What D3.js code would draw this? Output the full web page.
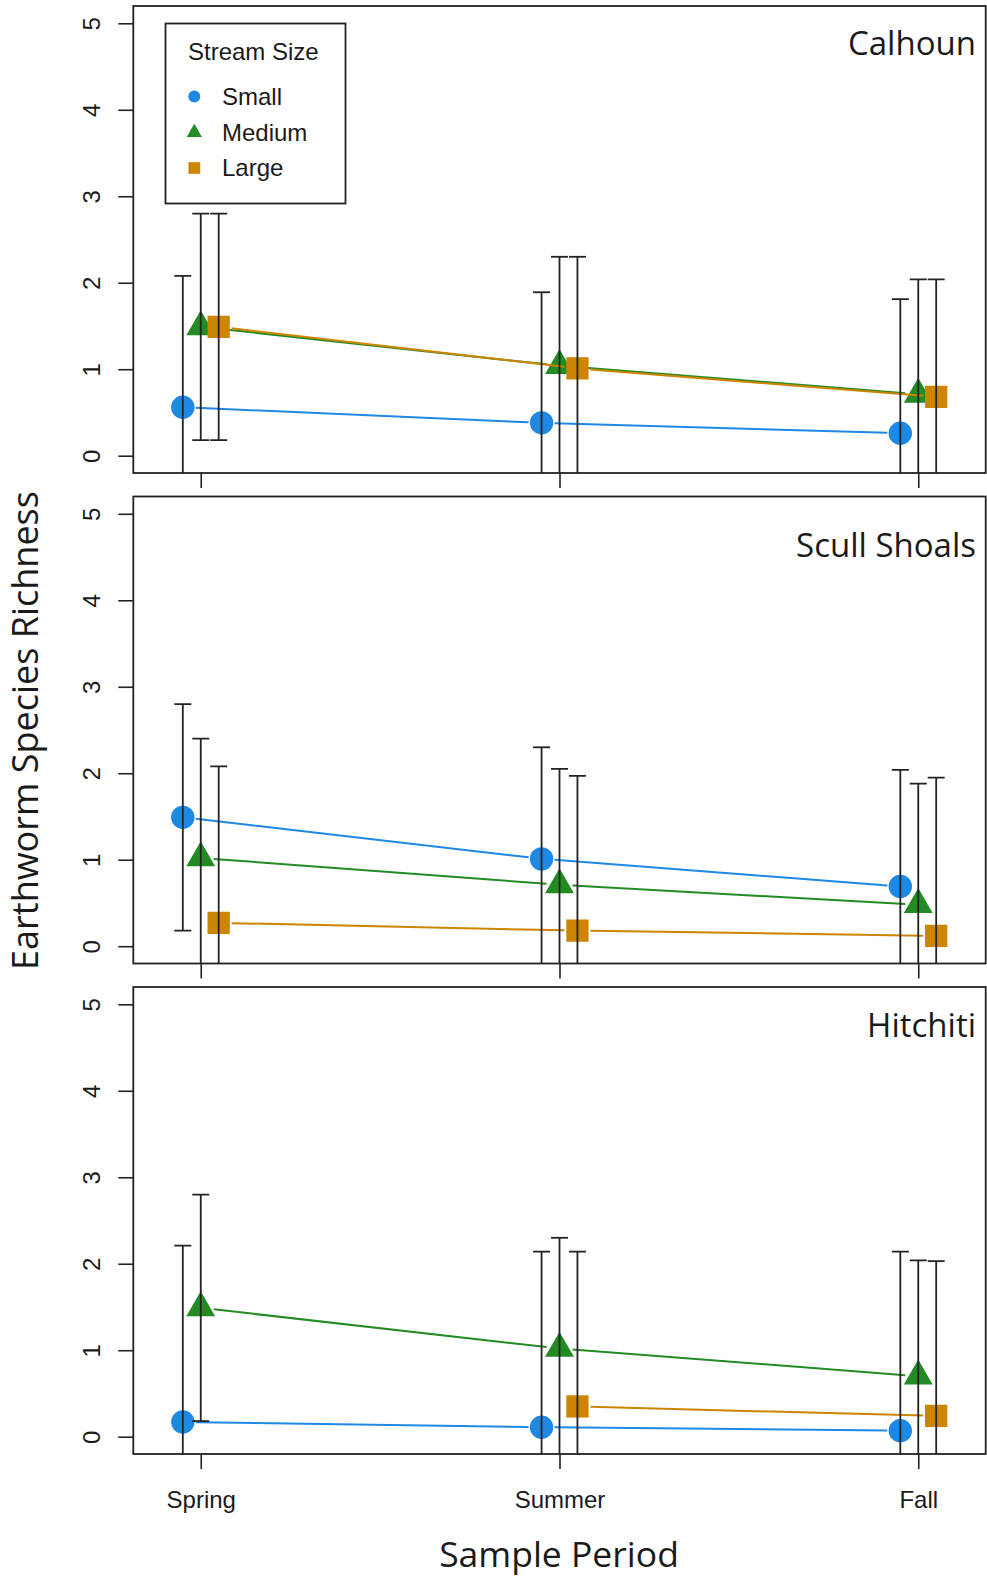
<!DOCTYPE html>
<html>
<head>
<meta charset="utf-8">
<script src="https://cdn.jsdelivr.net/npm/d3@7"></script>
<style>
  body { margin: 0; background: #fff; }
  text { font-family: "Liberation Sans", Arial, sans-serif; fill: #1a1a1a; }
  .title { font-family: "Open Sans", "Liberation Sans", sans-serif; }
</style>
</head>
<body>
<script>
    // data (mean and sd for each stream size, by period)
    var periods = ["Spring", "Summer", "Fall"];
    var sizes = ["Small", "Medium", "Large"];
    var sites = ["Calhoun", "Scull Shoals", "Hitchiti"];
    var yTicks = [0, 1, 2, 3, 4, 5];

    var calhounMean = [[0.56, 0.38, 0.26], [1.49, 1.04, 0.71], [1.49, 1.01, 0.68]];
    var calhounSd   = [[1.52, 1.51, 1.55], [1.31, 1.26, 1.33], [1.31, 1.29, 1.36]];

    var scullMean = [[1.49, 1.01, 0.69], [1.02, 0.71, 0.48], [0.27, 0.18, 0.12]];
    var scullSd   = [[1.31, 1.29, 1.35], [1.38, 1.34, 1.40], [1.81, 1.79, 1.83]];

    var hitchitiMean = [[0.17, 0.11, 0.07], [1.49, 1.02, 0.70], [null, 0.35, 0.24]];
    var hitchitiSd   = [[2.04, 2.03, 2.07], [1.31, 1.28, 1.34], [null, 1.79, 1.79]];

    var siteMeans = [calhounMean, scullMean, hitchitiMean];
    var siteSds = [calhounSd, scullSd, hitchitiSd];

    var W = 987, H = 1578;
    var left = 133.3, right = 985.7, panelH = 467;
    var panelTops = [6, 496.5, 987];
    var titleBase = [49, 60, 50];

    var colors = ["#1e88e5", "#228b22", "#cd8500"];
    var shapes = [d3.symbolCircle, d3.symbolTriangle, d3.symbolSquare];
    var markArea = [430, 360, 497];
    var legendArea = [113, 100, 137];
    var offsets = [-0.05, 0, 0.05];

    var svg = d3.select('body').append('svg')
            .attr('width', W)
            .attr('height', H);

    var x = d3.scaleLinear().domain([0.812, 3.188]).range([left, right]);

    sites.forEach(function (site, i) {
        var top = panelTops[i];
        var y = d3.scaleLinear().domain([-0.2, 5.2]).range([top + panelH, top]);
        var g = svg.append('g');

        g.append('clipPath').attr('id', 'clip' + i)
                .append('rect')
                .attr('x', left).attr('y', top)
                .attr('width', right - left).attr('height', panelH);

        // y axis, R style rotated labels
        var ya = g.append('g')
                .attr('transform', 'translate(' + left + ',0)')
                .call(d3.axisLeft(y).tickValues(yTicks).tickSize(15).tickSizeOuter(0)
                        .tickFormat(d3.format('d')));
        ya.select('.domain').remove();
        ya.selectAll('line').attr('stroke', '#222').attr('stroke-width', 1.6);
        ya.selectAll('text')
                .attr('x', 0).attr('dy', 0).attr('y', 0)
                .attr('text-anchor', 'middle')
                .attr('transform', 'translate(-33.3,0) rotate(-90)')
                .style('font-size', '24px')
                .attr('fill', '#1a1a1a');

        // x axis ticks, labels only on the last panel
        var xa = g.append('g')
                .attr('transform', 'translate(0,' + (top + panelH) + ')')
                .call(d3.axisBottom(x).tickValues([1, 2, 3]).tickSize(15).tickSizeOuter(0)
                        .tickPadding(22)
                        .tickFormat(function (d) { return i === 2 ? periods[d - 1] : ''; }));
        xa.select('.domain').remove();
        xa.selectAll('line').attr('stroke', '#222').attr('stroke-width', 1.6);
        xa.selectAll('text').style('font-size', '24px').attr('fill', '#1a1a1a');

        var inner = g.append('g').attr('clip-path', 'url(#clip' + i + ')');
        var means = siteMeans[i], sds = siteSds[i];

        sizes.forEach(function (sz, s) {
            var pts = [];
            means[s].forEach(function (m, p) {
                if (m !== null) pts.push([x(p + 1 + offsets[s]), y(m)]);
            });
            // type = "b": segments with a gap at each point
            var gap = 13;
            for (var k = 0; k < pts.length - 1; k++) {
                var a = pts[k], b = pts[k + 1];
                var dx = b[0] - a[0], dy = b[1] - a[1];
                var len = Math.sqrt(dx * dx + dy * dy);
                var ux = dx / len, uy = dy / len;
                inner.append('line')
                        .attr('x1', a[0] + ux * gap).attr('y1', a[1] + uy * gap)
                        .attr('x2', b[0] - ux * gap).attr('y2', b[1] - uy * gap)
                        .attr('stroke', colors[s])
                        .attr('stroke-width', 2);
            }
            inner.selectAll('.pt' + s)
                    .data(pts)
                    .enter().append('path')
                    .attr('d', d3.symbol().type(shapes[s]).size(markArea[s]))
                    .attr('transform', function (d) { return 'translate(' + d[0] + ',' + d[1] + ')'; })
                    .attr('fill', colors[s]);
        });

        // error bars on top
        sizes.forEach(function (sz, s) {
            means[s].forEach(function (m, p) {
                if (m === null) return;
                var cx = x(p + 1 + offsets[s]);
                var y0 = y(m - sds[s][p]), y1 = y(m + sds[s][p]);
                var hw = 8.5;
                inner.append('line')
                        .attr('x1', cx).attr('x2', cx).attr('y1', y0).attr('y2', y1)
                        .attr('stroke', '#222').attr('stroke-width', 1.8);
                [y0, y1].forEach(function (yy) {
                    inner.append('line')
                            .attr('x1', cx - hw).attr('x2', cx + hw).attr('y1', yy).attr('y2', yy)
                            .attr('stroke', '#222').attr('stroke-width', 1.8);
                });
            });
        });

        // panel box
        g.append('rect')
                .attr('x', left).attr('y', top)
                .attr('width', right - left).attr('height', panelH)
                .attr('fill', 'none')
                .attr('stroke', '#222')
                .attr('stroke-width', 1.8);

        g.append('text')
                .attr('class', 'title')
                .attr('x', 976)
                .attr('y', top + titleBase[i])
                .attr('text-anchor', 'end')
                .style('font-size', '33px')
                .text(site);
    });

    // LEGEND
    var lg = svg.append('g');
    lg.append('rect')
            .attr('x', 165.5).attr('y', 23.5)
            .attr('width', 180).attr('height', 180)
            .attr('fill', '#fff')
            .attr('stroke', '#222')
            .attr('stroke-width', 1.8);
    lg.append('text')
            .attr('x', 188).attr('y', 59.5)
            .style('font-size', '24px')
            .text('Stream Size');
    var rowY = [96.5, 132.5, 168];
    sizes.forEach(function (sz, s) {
        lg.append('path')
                .attr('d', d3.symbol().type(shapes[s]).size(legendArea[s]))
                .attr('transform', 'translate(194.3,' + rowY[s] + ')')
                .attr('fill', colors[s]);
        lg.append('text')
                .attr('x', 222).attr('y', rowY[s] + 8)
                .style('font-size', '24px')
                .text(sz);
    });

    // axis titles
    svg.append('text')
            .attr('class', 'title')
            .attr('text-anchor', 'middle')
            .attr('transform', 'translate(38,730.5) rotate(-90)')
            .style('font-size', '36px')
            .text('Earthworm Species Richness');

    svg.append('text')
            .attr('class', 'title')
            .attr('x', 559).attr('y', 1567)
            .attr('text-anchor', 'middle')
            .style('font-size', '35.5px')
            .text('Sample Period');
</script>
</body>
</html>
